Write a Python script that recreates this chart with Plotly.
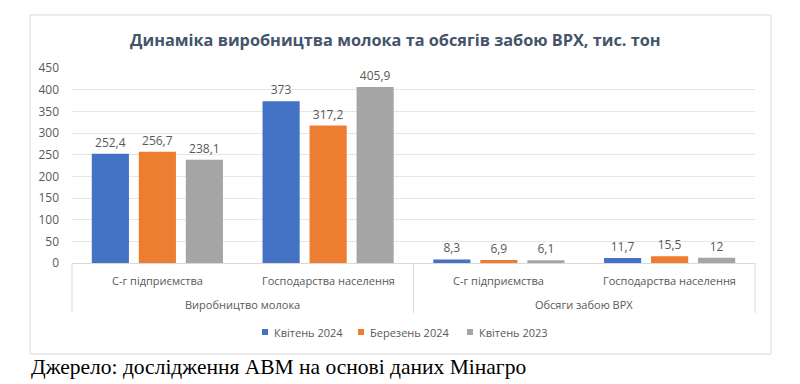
import plotly.graph_objects as go

groups = ["Виробництво молока", "Виробництво молока", "Обсяги забою ВРХ", "Обсяги забою ВРХ"]
categories = ["С-г підприємства", "Господарства населення", "С-г підприємства", "Господарства населення"]
group_labels = ["Виробництво молока", "Обсяги забою ВРХ"]
series_names = ["Квітень 2024", "Березень 2024", "Квітень 2023"]
apr_2024 = [252.4, 373, 8.3, 11.7]
mar_2024 = [256.7, 317.2, 6.9, 15.5]
apr_2023 = [238.1, 405.9, 6.1, 12]
colors = ["#4472C4", "#ED7D31", "#A5A5A5"]
y_ticks = [0, 50, 100, 150, 200, 250, 300, 350, 400, 450]

def fmt(v):
    s = f"{v:g}"
    return s.replace(".", ",")

fig = go.Figure()
for name, vals, col in zip(series_names, [apr_2024, mar_2024, apr_2023], colors):
    fig.add_trace(go.Bar(
        x=[groups, categories], y=vals, name=name,
        marker=dict(color=col, line=dict(width=0)),
        text=[fmt(v) for v in vals], textposition="outside",
        textfont=dict(color="#595959", size=12, family="Open Sans"),
        cliponaxis=False, showlegend=False,
    ))

L, R, T, B = 72, 45, 68, 121
W, H = 800 - L - R, 384 - T - B

def px(x):
    return (x - L) / W

def py(y):
    return (384 - B - y) / H

annotations = [
    dict(text="<b>Динаміка виробництва молока та обсягів забою ВРХ, тис. тон</b>",
         xref="paper", yref="paper", x=px(395), y=py(40), xanchor="center", yanchor="middle",
         showarrow=False, font=dict(size=16.3, color="#44546A", family="Open Sans")),
    dict(text="Джерело: дослідження АВМ на основі даних Мінагро",
         xref="paper", yref="paper", x=px(29), y=py(367), xanchor="left", yanchor="middle",
         showarrow=False, font=dict(size=21.5, color="black", family="Liberation Serif")),
]
n = len(categories)
for i, c in enumerate(categories):
    annotations.append(dict(text=c, xref="paper", yref="paper", x=(i + 0.5) / n, y=py(280),
                            xanchor="center", yanchor="middle", showarrow=False,
                            font=dict(size=11, color="#595959", family="Open Sans")))
for j, g in enumerate(group_labels):
    annotations.append(dict(text=g, xref="paper", yref="paper", x=(j + 0.5) / len(group_labels), y=py(304),
                            xanchor="center", yanchor="middle", showarrow=False,
                            font=dict(size=11, color="#595959", family="Open Sans")))

shapes = [
    dict(type="rect", xref="paper", yref="paper", x0=px(30), x1=px(771), y0=py(354), y1=py(15),
         line=dict(color="#D9D9D9", width=1), fillcolor="rgba(0,0,0,0)", layer="below"),
]
for k in range(len(group_labels) + 1):
    xx = k / len(group_labels)
    shapes.append(dict(type="line", xref="paper", yref="paper", x0=xx, x1=xx, y0=0, y1=py(313),
                       line=dict(color="#D9D9D9", width=1)))

# legend (manual, compact like the original)
legend_x = [262, 358, 467]
for lx, name, col in zip(legend_x, series_names, colors):
    shapes.append(dict(type="rect", xref="paper", yref="paper", x0=px(lx), x1=px(lx + 6),
                       y0=py(335), y1=py(329), line=dict(width=0), fillcolor=col))
    annotations.append(dict(text=name, xref="paper", yref="paper", x=px(lx + 10), y=py(332),
                            xanchor="left", yanchor="middle", showarrow=False,
                            font=dict(size=11, color="#595959", family="Open Sans")))

fig.update_layout(
    width=800, height=384,
    margin=dict(l=L, r=R, t=T, b=B, autoexpand=False),
    paper_bgcolor="white", plot_bgcolor="white",
    barmode="group", bargap=0.174, bargroupgap=0.21,
    font=dict(family="Open Sans", color="#595959", size=12),
    showlegend=False,
    yaxis=dict(range=[0, 450], tickvals=y_ticks, showgrid=True, gridcolor="#E6E6E6",
               zeroline=False, showline=False, ticks="", automargin=False,
               ticklabelstandoff=12,
               tickfont=dict(size=12, color="#595959")),
    xaxis=dict(type="multicategory", showline=True, linecolor="#D9D9D9", ticks="",
               showdividers=False, showticklabels=False, automargin=False),
    annotations=annotations,
    shapes=shapes,
)

fig.write_html("out.html", config={"displayModeBar": False},
               post_script="document.body.style.margin='0';document.body.style.overflow='hidden';")
